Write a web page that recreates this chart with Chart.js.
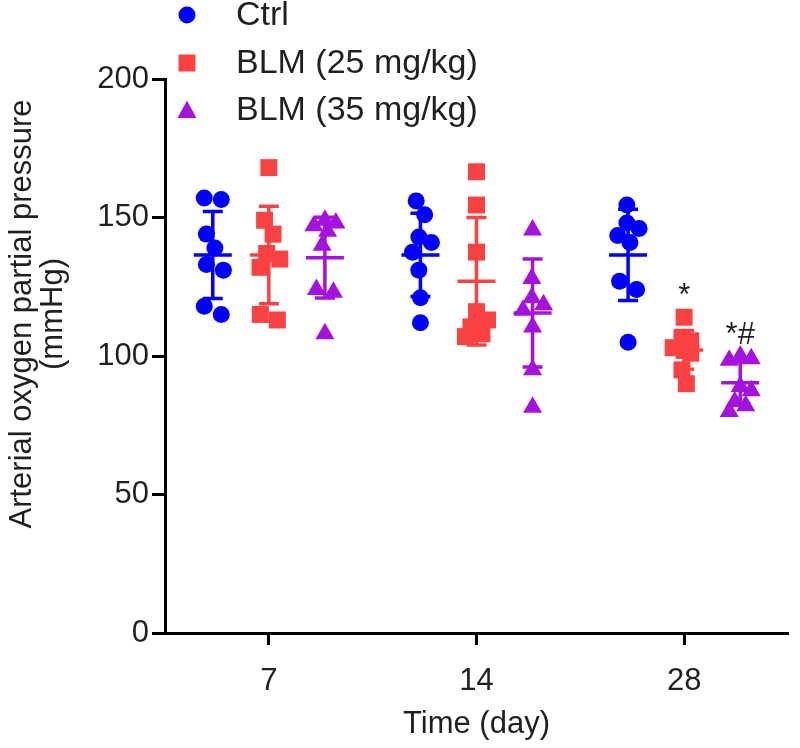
<!DOCTYPE html>
<html>
<head>
<meta charset="utf-8">
<script src="https://cdn.jsdelivr.net/npm/chart.js@4.4.0/dist/chart.umd.min.js"></script>
<style>
  html, body { margin: 0; padding: 0; background: #fff; }
  canvas { display: block; }
</style>
</head>
<body>
<canvas id="chart" width="800" height="748"></canvas>
<script>
// categories
var dayLabels = ['7', '14', '28'];
var seriesNames = ['Ctrl', 'BLM (25 mg/kg)', 'BLM (35 mg/kg)'];
var yTicks = [0, 50, 100, 150, 200];

// individual values per day (mmHg)
var ctrlValues = [
  [157, 156.5, 144, 139, 133, 131, 118, 115],
  [156, 151, 143, 141, 137.5, 131, 121, 112],
  [154.5, 148, 146, 143.5, 141, 127, 124, 105]
];
var blm25Values = [
  [168, 149, 144, 137, 135, 132, 115, 113],
  [166.5, 154.5, 137.5, 116, 113, 110.5, 108, 107],
  [114, 106.5, 105.5, 103, 102, 101, 95, 90]
];
var blm35Values = [
  [149, 148, 147, 145, 140, 124, 123, 108],
  [145.5, 128, 121, 118.5, 116.5, 110.5, 95, 81.5],
  [100, 99, 98.5, 89, 87.5, 83.5, 82, 80]
];

// mean and SD
var ctrlMean = [136.5, 136.5, 136.5];
var ctrlSD = [15.7, 15, 16.5];
var blm25Mean = [136.5, 127, 102.2];
var blm25SD = [17.6, 23, 7];
var blm35Mean = [135.5, 115.5, 90.3];
var blm35SD = [14.6, 19.5, 7.5];

// significance marks
var blm25Sig = ['', '', '*'];
var blm35Sig = ['', '', '*#'];

var seriesValues = [ctrlValues, blm25Values, blm35Values];
var seriesMeans = [ctrlMean, blm25Mean, blm35Mean];
var seriesSDs = [ctrlSD, blm25SD, blm35SD];
var seriesSig = [['', '', ''], blm25Sig, blm35Sig];

var seriesColors = ['#0000ff', '#fa4242', '#a512e0'];
var seriesStyles = ['circle', 'rect', 'triangle'];
var seriesRadius = [8.5, 12, 11];
var seriesOffsets = [-0.27, 0, 0.27];
var textColor = '#231f20';
var fontFamily = "'Liberation Sans', Arial, sans-serif";

var datasets = seriesNames.map(function(name, s) {
  var pts = [];
  seriesValues[s].forEach(function(vals, g) {
    vals.forEach(function(v) { pts.push({ x: g + 1 + seriesOffsets[s], y: v }); });
  });
  return {
    label: name,
    data: pts,
    pointStyle: seriesStyles[s],
    pointRadius: seriesRadius[s],
    pointHoverRadius: seriesRadius[s],
    backgroundColor: seriesColors[s],
    borderColor: seriesColors[s],
    borderWidth: 0
  };
});

// mean line + SD whiskers, and the * / *# marks
var errorBarPlugin = {
  id: 'errorBars',
  afterDatasetsDraw: function(chart) {
    var xs = chart.scales.x, ys = chart.scales.y, c = chart.ctx;
    c.save();
    c.lineWidth = 3.5;
    seriesMeans.forEach(function(means, s) {
      c.strokeStyle = seriesColors[s];
      means.forEach(function(m, g) {
        var px = xs.getPixelForValue(g + 1 + seriesOffsets[s]);
        var pm = ys.getPixelForValue(m);
        var pt = ys.getPixelForValue(m + seriesSDs[s][g]);
        var pb = ys.getPixelForValue(m - seriesSDs[s][g]);
        c.beginPath();
        c.moveTo(px, pt); c.lineTo(px, pb);
        c.moveTo(px - 10, pt); c.lineTo(px + 10, pt);
        c.moveTo(px - 10, pb); c.lineTo(px + 10, pb);
        c.moveTo(px - 19, pm); c.lineTo(px + 19, pm);
        c.stroke();
      });
    });
    c.fillStyle = textColor;
    c.font = '31px ' + fontFamily;
    c.textAlign = 'center';
    c.textBaseline = 'middle';
    seriesSig.forEach(function(marks, s) {
      marks.forEach(function(t, g) {
        if (!t) return;
        var top = Math.max.apply(null, seriesValues[s][g]);
        var px = xs.getPixelForValue(g + 1 + seriesOffsets[s]);
        c.fillText(t, px, ys.getPixelForValue(top) - 21);
      });
    });
    c.restore();
  }
};

// legend stacked at the top, and the two-line y title
var decorPlugin = {
  id: 'decor',
  afterDraw: function(chart) {
    var c = chart.ctx;
    c.save();
    var lx = 187, rows = [15, 63, 110];
    seriesNames.forEach(function(name, s) {
      var y = rows[s];
      c.fillStyle = seriesColors[s];
      c.beginPath();
      if (s === 0) {
        c.arc(lx, y, 8.5, 0, Math.PI * 2);
      } else if (s === 1) {
        c.rect(lx - 8.5, y - 8.5, 17, 17);
      } else {
        c.moveTo(lx, y - 9.5);
        c.lineTo(lx + 9.5, y + 8);
        c.lineTo(lx - 9.5, y + 8);
        c.closePath();
      }
      c.fill();
      c.fillStyle = textColor;
      c.font = '34px ' + fontFamily;
      c.textAlign = 'left';
      c.textBaseline = 'middle';
      c.fillText(name, 236, y + 1);
    });
    c.translate(22, 314);
    c.rotate(-Math.PI / 2);
    c.font = '31px ' + fontFamily;
    c.textAlign = 'center';
    c.textBaseline = 'middle';
    c.fillText('Arterial oxygen partial pressure', 0, 0);
    c.fillText('(mmHg)', 0, 31);
    c.restore();
  }
};

var ctx = document.getElementById('chart').getContext('2d');
var chart = new Chart(ctx, {
  type: 'scatter',
  data: { datasets: datasets },
  options: {
    responsive: false,
    animation: false,
    layout: { padding: { top: 79, right: 3, left: 0, bottom: 0 } },
    plugins: { legend: { display: false }, tooltip: { enabled: false } },
    scales: {
      x: {
        type: 'linear',
        min: 0.5,
        max: 3.5,
        afterBuildTicks: function(scale) {
          scale.ticks = dayLabels.map(function(d, i) { return { value: i + 1 }; });
        },
        afterFit: function(scale) { scale.height = 115; },
        ticks: {
          callback: function(v) { return dayLabels[v - 1]; },
          color: textColor,
          font: { family: fontFamily, size: 31 },
          padding: 18,
          maxRotation: 0,
          autoSkip: false
        },
        grid: { drawOnChartArea: false, drawTicks: true, tickLength: 12, tickWidth: 3, tickColor: '#000' },
        border: { display: true, color: '#000', width: 3 },
        title: {
          display: true,
          text: 'Time (day)',
          color: textColor,
          font: { family: fontFamily, size: 31 },
          padding: { top: 0, bottom: 5 }
        }
      },
      y: {
        min: 0,
        max: 200,
        afterBuildTicks: function(scale) {
          scale.ticks = yTicks.map(function(v) { return { value: v }; });
        },
        afterFit: function(scale) { scale.width = 165; },
        ticks: {
          color: textColor,
          font: { family: fontFamily, size: 31 },
          padding: 3
        },
        grid: { drawOnChartArea: false, drawTicks: true, tickLength: 13, tickWidth: 3, tickColor: '#000' },
        border: { display: true, color: '#000', width: 3 }
      }
    }
  },
  plugins: [errorBarPlugin, decorPlugin]
});

// spread points sideways where they overlap, using the chart's own scales,
// then centre each touching cluster on its column and keep it narrow
(function spreadPoints() {
  var xs = chart.scales.x, ys = chart.scales.y;
  var d = 17, maxHalf = 11;
  chart.data.datasets.forEach(function(ds, s) {
    var pts = [];
    seriesValues[s].forEach(function(vals, g) {
      var cx = xs.getPixelForValue(g + 1 + seriesOffsets[s]);
      var placed = [];
      vals.slice().sort(function(a, b) { return b - a; }).forEach(function(v) {
        var py = ys.getPixelForValue(v);
        var best = 0, bestDist = -1, off;
        for (var k = 0; k < 9; k++) {
          off = (k % 2 ? 1 : -1) * Math.ceil(k / 2) * d / 4;
          var minDist = placed.reduce(function(m, p) {
            return Math.min(m, Math.hypot(p.x - off, p.y - py));
          }, Infinity);
          if (minDist >= d * 0.95) { best = off; break; }
          if (minDist > bestDist + 0.5) { bestDist = minDist; best = off; }
        }
        placed.push({ x: best, y: py, v: v });
      });
      var comp = placed.map(function(p, i) { return i; });
      function root(i) { while (comp[i] !== i) i = comp[i]; return i; }
      for (var i = 0; i < placed.length; i++) {
        for (var j = i + 1; j < placed.length; j++) {
          if (Math.hypot(placed[i].x - placed[j].x, placed[i].y - placed[j].y) < d * 1.2) {
            comp[root(j)] = root(i);
          }
        }
      }
      var groups = {};
      placed.forEach(function(p, i) {
        var r = root(i);
        (groups[r] = groups[r] || []).push(p);
      });
      Object.keys(groups).forEach(function(r) {
        var grp = groups[r];
        var mean = grp.reduce(function(a, p) { return a + p.x; }, 0) / grp.length;
        var span = grp.reduce(function(a, p) { return Math.max(a, Math.abs(p.x - mean)); }, 0);
        var k = span > maxHalf ? maxHalf / span : 1;
        grp.forEach(function(p) { p.x = (p.x - mean) * k; });
      });
      placed.forEach(function(p) {
        pts.push({ x: xs.getValueForPixel(cx + p.x), y: p.v });
      });
    });
    ds.data = pts;
  });
  chart.update('none');
})();
</script>
</body>
</html>
